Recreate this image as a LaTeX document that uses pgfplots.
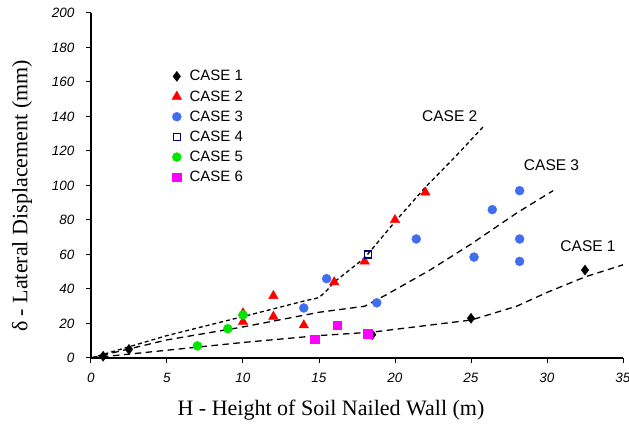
\documentclass[border=0pt]{standalone}
\usepackage{pgfplots}
\pgfplotsset{compat=1.18}
\usepackage{fontspec}
\setmainfont{Liberation Serif}
\newfontfamily\arial{Liberation Sans}
\definecolor{cblue}{RGB}{65,110,240}
\definecolor{cnavy}{RGB}{0,0,128}
\definecolor{cgreen}{RGB}{0,230,0}
\definecolor{cmag}{RGB}{255,0,255}
\begin{document}
\begin{tikzpicture}
\begin{axis}[
  scale only axis, width=532pt, height=345pt,
  at={(0,0)}, anchor=origin,
  xmin=0, xmax=35, ymin=0, ymax=200,
  axis x line*=bottom, axis y line*=left,
  axis line style={-, line width=1.1pt},
  xtick={0,5,...,35}, ytick={0,20,...,200},
  tick align=outside, major tick length=5pt,
  tick style={line width=1pt, black},
  /pgf/number format/assume math mode=true,
  ticklabel style={font=\arial\itshape\fontsize{13.5}{13.5}\selectfont},
  yticklabel style={xshift=-8pt},
  xticklabel style={yshift=-7pt},
  clip=false,
  legend style={draw=none, fill=none, at={(rel axis cs:0.152,0.84)}, anchor=north west,
    font=\arial\fontsize{15}{17}\selectfont, row sep=4.2pt, inner sep=0pt,
    nodes={inner xsep=8pt}},
  legend cell align=left,
  trend/.style={black, line width=1.3pt, dash pattern=on 6.5pt off 4.5pt, forget plot},
]
% trend lines
\addplot[trend, dash pattern=on 4pt off 3pt] coordinates {(0,0) (5,13) (10,24) (14,33) (15,35) (15.5,39) (16,44) (18,58) (20,79) (22,99) (24,117) (25.8,134)};
\addplot[trend] coordinates {(0,0) (5,10.5) (10,18) (15,26.5) (18,30) (19.5,37) (22.3,51) (25,66) (28,84) (30.4,97)};
\addplot[trend] coordinates {(0,0) (5,4.5) (10,9) (15,13) (18.5,15) (25,22) (28,30) (30,38) (32.5,47) (35,54)};
% data
\addplot[only marks, mark=diamond*, mark size=5pt, black] coordinates {(0.8,1) (2.5,5) (18.5,13.5) (25,23) (32.5,51)};
\addlegendentry{CASE 1}
\addplot[only marks, mark=triangle*, mark size=5.5pt, red] coordinates {(10,26) (10,21) (12,36) (12,24) (14,19) (16,44) (18,56) (20,80) (22,96)};
\addlegendentry{CASE 2}
\addplot[only marks, mark=*, mark size=4.5pt, cblue] coordinates {(14,29) (15.5,46) (18.8,32) (21.4,69) (25.2,58.5) (26.4,86) (28.2,97) (28.2,69) (28.2,56)};
\addlegendentry{CASE 3}
\addplot[only marks, mark=square, mark size=3.5pt, cnavy, line width=1.2pt] coordinates {(18.2,60)};
\addlegendentry{CASE 4}
\addplot[only marks, mark=*, mark size=4.5pt, cgreen] coordinates {(7,7) (9,17) (10,25)};
\addlegendentry{CASE 5}
\addplot[only marks, mark=square*, mark size=4.3pt, cmag] coordinates {(14.7,11) (16.2,19) (18.2,14)};
\addlegendentry{CASE 6}
% labels
\node[font=\arial\fontsize{15.5}{17}\selectfont] at (axis cs:23.6,140) {CASE 2};
\node[font=\arial\fontsize{15.5}{17}\selectfont] at (axis cs:30.3,112) {CASE 3};
\node[font=\arial\fontsize{15.5}{17}\selectfont] at (axis cs:32.7,65) {CASE 1};
\end{axis}
\node[font=\fontsize{22}{24}\selectfont] at (240pt,-52pt) {H - Height of Soil Nailed Wall (m)};
\node[font=\fontsize{22}{24}\selectfont, rotate=90] at (-69pt,162pt) {δ - Lateral Displacement (mm)};
\pgfresetboundingbox
\path[use as bounding box] (-91pt,-70pt) rectangle (538pt,358pt);
\end{tikzpicture}
\end{document}
